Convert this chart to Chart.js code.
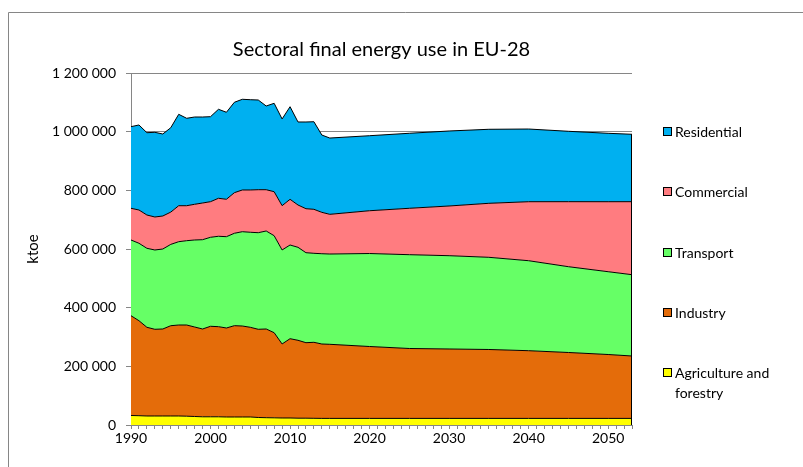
<!DOCTYPE html>
<html lang="en">
<head>
  <meta charset="UTF-8">
  <title>Sectoral final energy use in EU-28</title>
  <script src="https://cdn.jsdelivr.net/npm/chart.js"></script>
  <style>
    body { margin: 0; background: #fff; }
    #chart { display: block; }
  </style>
</head>
<body>
  <canvas id="chart" width="803" height="467"></canvas>

  <script>
    // years: annual history to 2015, then projection points
    const years = [1990, 1991, 1992, 1993, 1994, 1995, 1996, 1997, 1998, 1999,
                   2000, 2001, 2002, 2003, 2004, 2005, 2006, 2007, 2008, 2009,
                   2010, 2011, 2012, 2013, 2014, 2015,
                   2020, 2025, 2030, 2035, 2040, 2045, 2050, 2053];

    // ktoe
    const agriculture = [32400, 31700, 30700, 30700, 30700, 30700, 30700, 30000, 29000, 28000,
                         28000, 28000, 27300, 27300, 27300, 27300, 25600, 24900, 24500, 23900,
                         23900, 23200, 23200, 22800, 22500, 22500,
                         22500, 22500, 22500, 22500, 22500, 22500, 22500, 22500];
    const industry = [340200, 323900, 302400, 295600, 296600, 307800, 310200, 310900, 305100, 299300,
                      308500, 307200, 303400, 311300, 310200, 305800, 300700, 302400, 290100, 252300,
                      270300, 265600, 257400, 259100, 253600, 252600,
                      245100, 238300, 236600, 234900, 230800, 224700, 217800, 212700];
    const transport = [258100, 263900, 269300, 270300, 272700, 277200, 284000, 287400, 296600, 304400,
                       303400, 308200, 311300, 315000, 321500, 323900, 329300, 334100, 330700, 320500,
                       319400, 317000, 306800, 303400, 307800, 307800,
                       317000, 319800, 318100, 314300, 306800, 292500, 282300, 277200];
    const commercial = [108100, 113500, 113500, 112500, 112500, 110100, 122700, 119300, 121700, 125100,
                        121400, 129500, 127500, 138400, 142200, 144200, 146600, 140800, 150000, 151000,
                        155800, 144200, 150000, 150000, 141100, 135300,
                        145900, 158200, 169400, 184100, 201100, 221600, 238600, 248900];
    const residential = [278200, 289800, 280600, 288700, 279500, 287700, 311600, 298000, 297600, 293200,
                         289800, 303400, 296600, 308200, 309200, 307800, 305800, 285300, 301400, 295600,
                         315700, 283000, 295600, 298600, 263500, 260100,
                         255700, 255700, 255700, 252300, 247800, 240000, 233200, 229800];

    const seriesNames = ['Agriculture and forestry', 'Industry', 'Transport', 'Commercial', 'Residential'];
    const seriesColors = ['#FFFF00', '#E46C0A', '#66FF66', '#FF7C80', '#00B0F0'];
    const seriesValues = [agriculture, industry, transport, commercial, residential];

    const yTicks = [0, 200000, 400000, 600000, 800000, 1000000, 1200000];
    const xLabelYears = [1990, 2000, 2010, 2020, 2030, 2040, 2050];

    const FONT = 'Lato, "Open Sans", sans-serif';
    const GREY = '#868686';

    function spaced(v) {
      return String(v).replace(/\B(?=(\d{3})+(?!\d))/g, ' ');
    }

    // outer frame, title, closing edge of the areas and the vertical legend
    const decorations = {
      id: 'decorations',
      beforeDraw(chart) {
        const ctx = chart.ctx;
        ctx.save();
        ctx.strokeStyle = GREY;
        ctx.lineWidth = 1;
        ctx.beginPath();
        ctx.moveTo(8.5, chart.height);
        ctx.lineTo(8.5, 12.5);
        ctx.lineTo(chart.width, 12.5);
        ctx.stroke();
        ctx.restore();
      },
      afterDatasetsDraw(chart) {
        // Excel outlines the right end of the stacked areas
        const ctx = chart.ctx;
        const xs = chart.scales.x, ys = chart.scales.y;
        const last = years.length - 1;
        const total = seriesValues.reduce((s, arr) => s + arr[last], 0);
        const px = Math.round(xs.getPixelForValue(years[last])) - 0.5;
        ctx.save();
        ctx.strokeStyle = '#000';
        ctx.lineWidth = 1;
        ctx.beginPath();
        ctx.moveTo(px, ys.getPixelForValue(total));
        ctx.lineTo(px, ys.getPixelForValue(0));
        ctx.stroke();
        ctx.restore();
      },
      afterDraw(chart) {
        const ctx = chart.ctx;
        const area = chart.chartArea;
        ctx.save();
        ctx.fillStyle = '#000';
        ctx.font = '20px ' + FONT;
        ctx.textAlign = 'center';
        ctx.textBaseline = 'middle';
        ctx.fillText('Sectoral final energy use in EU-28', (area.left + area.right) / 2, 50);

        const rowY = [373, 313, 253, 192, 132];
        ctx.font = '14px ' + FONT;
        ctx.textAlign = 'left';
        chart.data.datasets.forEach((ds, i) => {
          const y = rowY[i];
          ctx.fillStyle = ds.backgroundColor;
          ctx.fillRect(663.5, y - 4.5, 8, 8);
          ctx.strokeStyle = '#000';
          ctx.strokeRect(663.5, y - 4.5, 8, 8);
          ctx.fillStyle = '#000';
          const words = ds.label === 'Agriculture and forestry' ? ['Agriculture and', 'forestry'] : [ds.label];
          words.forEach((w, k) => ctx.fillText(w, 675, y + k * 20));
        });
        ctx.restore();
      }
    };

    const datasets = seriesNames.map((name, i) => ({
      label: name,
      data: years.map((yr, k) => ({ x: yr, y: seriesValues[i][k] })),
      backgroundColor: seriesColors[i],
      borderColor: '#000',
      borderWidth: 1,
      pointRadius: 0,
      tension: 0,
      fill: i === 0 ? 'origin' : '-1'
    }));

    new Chart(document.getElementById('chart').getContext('2d'), {
      type: 'line',
      data: { datasets },
      options: {
        responsive: false,
        animation: false,
        devicePixelRatio: 1,
        layout: { padding: { top: 73, right: 171, left: 0, bottom: 0 } },
        plugins: {
          legend: { display: false },
          title: { display: false },
          tooltip: { enabled: false }
        },
        scales: {
          x: {
            type: 'linear',
            min: 1990,
            max: 2053,
            afterFit(scale) { scale.height = 42; },
            afterBuildTicks(scale) {
              scale.ticks = [];
              for (let y = 1990; y <= 2053; y++) scale.ticks.push({ value: y });
            },
            ticks: {
              autoSkip: false,
              maxRotation: 0,
              padding: 1,
              color: '#000',
              font: { family: FONT, size: 14 },
              callback: v => xLabelYears.includes(v) ? String(v) : ''
            },
            grid: { drawOnChartArea: false, tickLength: 4, color: GREY },
            border: { color: GREY }
          },
          y: {
            stacked: true,
            min: 0,
            max: 1200000,
            afterFit(scale) { scale.width = 131; },
            afterBuildTicks(scale) { scale.ticks = yTicks.map(v => ({ value: v })); },
            ticks: {
              padding: 10,
              color: '#000',
              font: { family: FONT, size: 14 },
              callback: v => spaced(v)
            },
            grid: { color: GREY, tickLength: 5 },
            border: { color: GREY },
            title: {
              display: true,
              text: 'ktoe',
              color: '#000',
              font: { family: FONT, size: 15 },
              padding: { top: 24, bottom: 0 }
            }
          }
        }
      },
      plugins: [decorations]
    });
  </script>
</body>
</html>
